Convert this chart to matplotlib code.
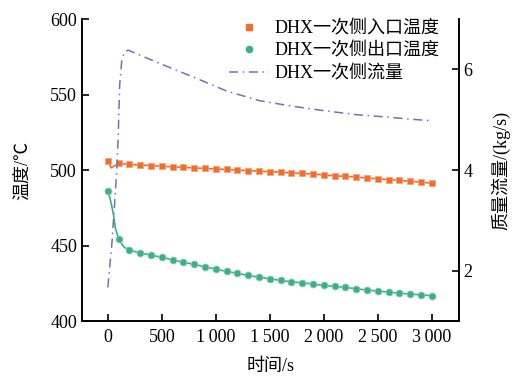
import matplotlib
matplotlib.use('Agg')
import matplotlib.pyplot as plt
from matplotlib.lines import Line2D
from matplotlib.ticker import FuncFormatter
import numpy as np

plt.rcParams['font.family'] = ['Liberation Serif', 'Noto Sans CJK SC', 'DejaVu Sans']
plt.rcParams['axes.unicode_minus'] = False

# 入口温度 (markers every 100 s, extra dip point at 30 s)
t_in = [0, 30, 100, 200, 300, 400, 500, 600, 700, 800, 900, 1000, 1100, 1200, 1300,
        1400, 1500, 1600, 1700, 1800, 1900, 2000, 2100, 2200, 2300, 2400, 2500,
        2600, 2700, 2800, 2900, 3000]
T_in = [506.2, 501.5, 504.4, 503.7, 503.3, 502.9, 502.5, 502.1, 501.8, 501.4, 501.1,
        500.7, 500.4, 500.0, 499.6, 499.3, 498.9, 498.7, 498.0, 497.8, 497.4, 496.7,
        496.2, 495.8, 495.4, 494.7, 494.3, 493.6, 493.2, 492.5, 492.1, 491.2]

# 出口温度
t_out = [0, 20, 50, 70, 100, 150, 200, 300, 400, 500, 600, 700, 800, 900, 1000, 1100,
         1200, 1300, 1400, 1500, 1600, 1700, 1800, 1900, 2000, 2100, 2200, 2300,
         2400, 2500, 2600, 2700, 2800, 2900, 3000]
T_out = [486.3, 481.5, 471.5, 461.6, 454.1, 449.0, 447.0, 445.2, 443.7, 442.2, 440.6,
         439.0, 437.5, 436.0, 434.4, 432.9, 431.6, 430.2, 429.1, 428.0, 426.9, 426.0,
         425.4, 424.5, 423.6, 423.0, 422.3, 421.4, 420.5, 419.9, 419.2, 418.5, 417.9,
         417.4, 416.8]

# 流量
t_flow = [0, 40, 80, 95, 110, 130, 160, 190, 300, 500, 800, 1100, 1400, 1700, 2000,
          2300, 2600, 2800, 3000]
flow = [1.67, 2.6, 3.9, 4.6, 5.7, 6.2, 6.36, 6.38, 6.28, 6.10, 5.84, 5.57, 5.38, 5.27,
        5.18, 5.10, 5.05, 5.01, 4.98]

c_in = '#f26d2b'
c_out = '#3daf86'
c_flow = '#7570b3'
flow_ls = (0, (6, 3, 1, 3))

fig = plt.figure(figsize=(5.12, 3.8), dpi=100)
ax = fig.add_axes([0.160, 0.155, 0.736, 0.795])
ax2 = ax.twinx()

mk_in = [i for i, t in enumerate(t_in) if t % 100 == 0]
mk_out = [i for i, t in enumerate(t_out) if t % 100 == 0]
ax.plot(t_in, T_in, color=c_in, lw=1.2, marker='s', ms=4.8, markevery=mk_in,
        mec='#f7a27a', mew=0.6, zorder=3)
ax.plot(t_out, T_out, color=c_out, lw=1.2, marker='o', ms=5, markevery=mk_out,
        mec='#8ccfb5', mew=0.6, zorder=3)
ax2.plot(t_flow, flow, color=c_flow, lw=1.1, ls=flow_ls)

ax.set_xlim(-240, 3250)
ax.set_ylim(400, 600)
ax2.set_ylim(1, 7)
ax.set_xticks(np.arange(0, 3001, 500))
ax.set_yticks(np.arange(400, 601, 50))
ax2.set_yticks([2, 4, 6])


def fmt(x, pos):
    s = '%d' % x
    if len(s) > 3:
        s = s[:-3] + '\u2009' + s[-3:]
    return s


ax.xaxis.set_major_formatter(FuncFormatter(fmt))

for a in (ax, ax2):
    a.spines['top'].set_visible(False)
    for s in a.spines.values():
        s.set_linewidth(1.2)
    a.tick_params(direction='in', length=5, width=1.2, labelsize=13)
ax.tick_params(axis='x', pad=6)

ax.set_xlabel('时间/s', fontsize=13, labelpad=8)
ax.set_ylabel('温度/℃', fontsize=13, labelpad=14)
ax2.set_ylabel('质量流量/(kg/s)', fontsize=13, labelpad=13)

handles = [
    Line2D([], [], color=c_in, marker='s', ls='none', ms=4.5),
    Line2D([], [], color=c_out, marker='o', ls='none', ms=4.5),
    Line2D([], [], color=c_flow, lw=1.1, ls=flow_ls),
]
labels = ['DHX一次侧入口温度', 'DHX一次侧出口温度', 'DHX一次侧流量']
ax.legend(handles, labels, loc='upper left', bbox_to_anchor=(0.372, 1.02),
          frameon=False, fontsize=13, labelspacing=0.3, handlelength=2.2,
          handletextpad=0.3, borderaxespad=0)

fig.savefig('out.png', dpi=100)
